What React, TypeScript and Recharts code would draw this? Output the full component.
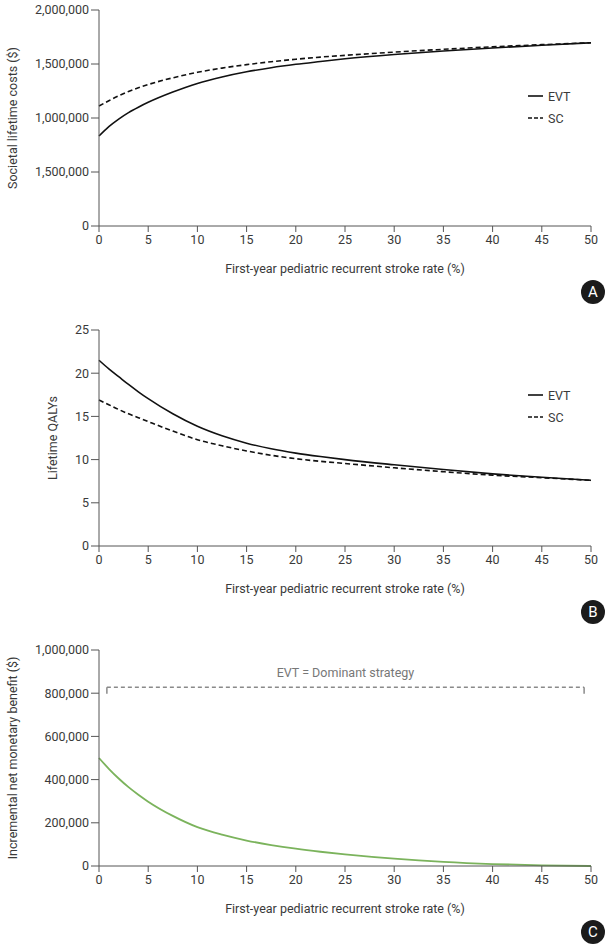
import { LineChart, Line, XAxis, YAxis, ReferenceLine } from 'recharts'

// first-year pediatric recurrent stroke rate (%)
const rate = [0, 1, 2, 3, 4, 5, 7.5, 10, 12.5, 15, 17.5, 20, 22.5, 25, 30, 35, 40, 45, 50]

// A: societal lifetime costs ($)
const costEVT = [833000, 920000, 990000, 1050000, 1100000, 1145000, 1240000, 1320000, 1380000, 1428000, 1466000, 1497000, 1523000, 1548000, 1588000, 1620000, 1648000, 1673000, 1697000]
const costSC = [1111000, 1160000, 1205000, 1245000, 1280000, 1310000, 1372000, 1423000, 1462000, 1494000, 1521000, 1544000, 1564000, 1580000, 1610000, 1636000, 1659000, 1679000, 1697000]

// B: lifetime QALYs
const qalyEVT = [21.5, 20.5, 19.6, 18.7, 17.85, 17.05, 15.3, 13.85, 12.75, 11.9, 11.25, 10.75, 10.35, 10.0, 9.4, 8.85, 8.35, 7.95, 7.6]
const qalySC = [16.9, 16.35, 15.8, 15.3, 14.85, 14.4, 13.3, 12.3, 11.6, 11.0, 10.5, 10.1, 9.8, 9.55, 9.05, 8.6, 8.2, 7.9, 7.6]

// C: incremental net monetary benefit ($)
const inmb = [500000, 450000, 405000, 365000, 330000, 298000, 232000, 180000, 145000, 118000, 97000, 80000, 66000, 54000, 34000, 19000, 9000, 3000, 0]

const xTicks = [0, 5, 10, 15, 20, 25, 30, 35, 40, 45, 50]
const costTicks = [0, 500000, 1000000, 1500000, 2000000]
const costTickLabels = ['0', '1,500,000', '1,000,000', '1,500,000', '2,000,000'] // as printed
const qalyTicks = [0, 5, 10, 15, 20, 25]
const inmbTicks = [0, 200000, 400000, 600000, 800000, 1000000]

// dominance bracket in panel C
const bracketY = 827000
const bracketDrop = 797000
const bracketX = [0.8, 49.3]

const costData = rate.map((r, i) => ({ r, evt: costEVT[i], sc: costSC[i] }))
const qalyData = rate.map((r, i) => ({ r, evt: qalyEVT[i], sc: qalySC[i] }))
const inmbData = rate.map((r, i) => ({ r, inmb: inmb[i] }))

const FONT = "Roboto, 'Liberation Sans', Arial, sans-serif"
const FS = 12.5
const TEXT = '#3a3a3a'
const AXIS = '#555'
const W = 612
const H = 320
const margin = { top: 10, right: 21, left: 0, bottom: 44 }
const tick = { fill: TEXT, fontSize: FS, fontFamily: FONT }
const fmt = (v: number) => v.toLocaleString('en-US')

function SeriesLegend({ top }: { top: number }) {
  const rows = [
    { name: 'EVT', dash: undefined },
    { name: 'SC', dash: '4 2' },
  ]
  return (
    <div style={{ position: 'absolute', left: 528, top, fontFamily: FONT, fontSize: FS, color: TEXT }}>
      {rows.map(row => (
        <div key={row.name} style={{ height: 22, display: 'flex', alignItems: 'center' }}>
          <svg width={20} height={10}>
            <line x1={0} x2={15} y1={5} y2={5} stroke="#111" strokeWidth={1.6} strokeDasharray={row.dash} />
          </svg>
          <span>{row.name}</span>
        </div>
      ))}
    </div>
  )
}

function Badge({ letter }: { letter: string }) {
  return (
    <div style={{
      position: 'absolute', left: 581, top: 280, width: 24, height: 24, borderRadius: 12,
      background: '#1b1b1b', color: '#fff', fontFamily: FONT, fontSize: 15,
      display: 'flex', alignItems: 'center', justifyContent: 'center',
    }}>{letter}</div>
  )
}

function xAxis() {
  return (
    <XAxis
      dataKey="r" type="number" domain={[0, 50]} ticks={xTicks} interval={0}
      stroke={AXIS} tickSize={6} tickMargin={3} tick={tick} height={50}
      label={{ value: 'First-year pediatric recurrent stroke rate (%)', position: 'insideBottom', offset: 3, fill: TEXT, fontSize: FS, fontFamily: FONT }}
    />
  )
}

function yLabel(value: string, offset: number) {
  return { value, angle: -90, position: 'insideLeft' as const, offset, fill: TEXT, fontSize: FS, fontFamily: FONT, style: { textAnchor: 'middle' as const } }
}

export default function App() {
  return (
    <div style={{ position: 'absolute', left: 0, top: 0, width: W, height: 946, background: '#fff' }}>
      <div style={{ position: 'absolute', left: 0, top: 0, width: W, height: H }}>
        <LineChart width={W} height={H} data={costData} margin={margin}>
          {xAxis()}
          <YAxis
            domain={[0, 2000000]} ticks={costTicks} interval={0} width={99} stroke={AXIS}
            tickSize={8} tickMargin={2} tick={tick}
            tickFormatter={(v: number) => costTickLabels[costTicks.indexOf(v)] ?? fmt(v)}
            label={yLabel('Societal lifetime costs ($)', 13)}
          />
          <Line type="monotone" dataKey="evt" stroke="#111" strokeWidth={1.6} dot={false} isAnimationActive={false} />
          <Line type="monotone" dataKey="sc" stroke="#111" strokeWidth={1.6} strokeDasharray="5 3" dot={false} isAnimationActive={false} />
        </LineChart>
        <SeriesLegend top={85} />
        <Badge letter="A" />
      </div>

      <div style={{ position: 'absolute', left: 0, top: 320, width: W, height: H }}>
        <LineChart width={W} height={H} data={qalyData} margin={margin}>
          {xAxis()}
          <YAxis
            domain={[0, 25]} ticks={qalyTicks} interval={0} width={99} stroke={AXIS}
            tickSize={8} tickMargin={2} tick={tick}
            label={yLabel('Lifetime QALYs', 53)}
          />
          <Line type="monotone" dataKey="evt" stroke="#111" strokeWidth={1.6} dot={false} isAnimationActive={false} />
          <Line type="monotone" dataKey="sc" stroke="#111" strokeWidth={1.6} strokeDasharray="5 3" dot={false} isAnimationActive={false} />
        </LineChart>
        <SeriesLegend top={64} />
        <Badge letter="B" />
      </div>

      <div style={{ position: 'absolute', left: 0, top: 640, width: W, height: H }}>
        <LineChart width={W} height={H} data={inmbData} margin={margin}>
          {xAxis()}
          <YAxis
            domain={[0, 1000000]} ticks={inmbTicks} interval={0} width={99} stroke={AXIS}
            tickSize={8} tickMargin={2} tick={tick} tickFormatter={fmt}
            label={yLabel('Incremental net monetary benefit ($)', 13)}
          />
          <ReferenceLine
            segment={[{ x: bracketX[0], y: bracketY }, { x: bracketX[1], y: bracketY }]}
            stroke="#8a8a8a" strokeWidth={1.5} strokeDasharray="4 3"
            label={{ value: 'EVT = Dominant strategy', position: 'top', offset: 10, fill: '#777', fontSize: FS, fontFamily: FONT }}
          />
          <ReferenceLine segment={[{ x: bracketX[0], y: bracketY }, { x: bracketX[0], y: bracketDrop }]} stroke="#8a8a8a" strokeWidth={1.5} />
          <ReferenceLine segment={[{ x: bracketX[1], y: bracketY }, { x: bracketX[1], y: bracketDrop }]} stroke="#8a8a8a" strokeWidth={1.5} />
          <Line type="monotone" dataKey="inmb" stroke="#7bb35c" strokeWidth={1.8} dot={false} isAnimationActive={false} />
        </LineChart>
        <Badge letter="C" />
      </div>
    </div>
  )
}
